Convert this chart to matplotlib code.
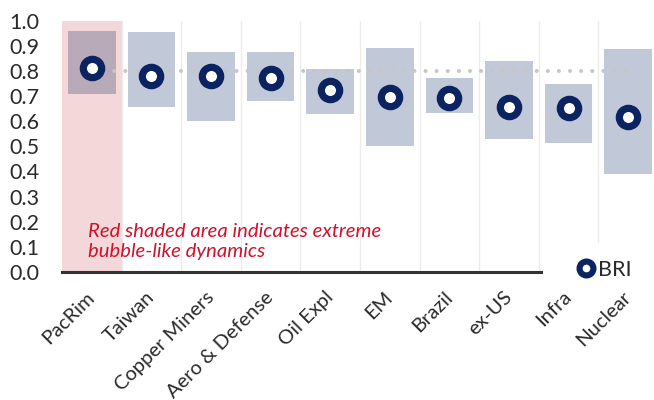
import matplotlib
matplotlib.use("Agg")
import matplotlib.pyplot as plt
from matplotlib.lines import Line2D

plt.rcParams['font.family'] = ['Lato', 'DejaVu Sans']

categories = ["PacRim", "Taiwan", "Copper Miners", "Aero & Defense", "Oil Expl",
              "EM", "Brazil", "ex-US", "Infra", "Nuclear"]
range_high = [0.958, 0.954, 0.874, 0.874, 0.808, 0.893, 0.772, 0.841, 0.748, 0.889]
range_low = [0.707, 0.658, 0.602, 0.682, 0.627, 0.501, 0.632, 0.530, 0.512, 0.391]
bri = [0.810, 0.780, 0.780, 0.771, 0.724, 0.698, 0.692, 0.655, 0.653, 0.617]
threshold = 0.8
yticks = [0.0, 0.1, 0.2, 0.3, 0.4, 0.5, 0.6, 0.7, 0.8, 0.9, 1.0]
ytick_labels = ["0.0", "0.1", "0.2", "0.3", "0.4", "0.5", "0.6", "0.7", "0.8", "0.9", "1.0"]

NAVY = "#0b2461"
RED = "#d0112b"
TXT = "#2a2a2a"

fig = plt.figure(figsize=(6.54, 4.0), dpi=100)
ax = fig.add_axes([62/654, 1-272/400, 1-62/654, (272-20.7)/400])

x = list(range(len(categories)))

ax.axvspan(-0.5, 0.5, color="#f4d7d8", zorder=0, lw=0)

for i in range(len(categories) - 1):
    ymin = 0.12 if i == len(categories) - 2 else 0
    ax.axvline(i + 0.5, ymin=ymin, ymax=1, color="#ececec", lw=1, zorder=0.5)

heights = [h - l for h, l in zip(range_high, range_low)]
ax.bar(x, heights, bottom=range_low, width=0.8, color=NAVY, alpha=0.25, lw=0, zorder=1)

ax.plot([x[0], x[-1]], [threshold, threshold], color="#c6c6c6", lw=2.9,
        linestyle=(0, (0.01, 2.75)), dash_capstyle="round", zorder=2)

ax.plot(x, bri, linestyle="none", marker="o", markersize=13.2, markeredgewidth=5.2,
        markerfacecolor="white", markeredgecolor=NAVY, zorder=3)

ax.text(-0.064, 0.121, "Red shaded area indicates extreme\nbubble-like dynamics",
        color=RED, style="italic", fontsize=14.6, va="center", ha="left",
        linespacing=1.2, zorder=4)

ax.set_xlim(-0.5, 9.433)
ax.set_ylim(0, 1)
ax.set_yticks(yticks)
ax.set_yticklabels(ytick_labels)
ax.set_xticks(x)
ax.set_xticklabels(categories, rotation=45, ha="right", rotation_mode="anchor", va="center")
ax.tick_params(axis="y", length=0, pad=16, labelsize=15.5, labelcolor=TXT)
ax.tick_params(axis="x", length=0, pad=16, labelsize=14.5, labelcolor=TXT)

for s in ["top", "right", "left"]:
    ax.spines[s].set_visible(False)
ax.spines["bottom"].set_color("#333333")
ax.spines["bottom"].set_linewidth(2.2)
ax.spines["bottom"].set_bounds(-0.5, 7.54)
ax.spines["bottom"].set_zorder(5)

handle = Line2D([], [], linestyle="none", marker="o", markersize=10, markeredgewidth=4.4,
                markerfacecolor="white", markeredgecolor=NAVY)
ax.legend(handles=[handle], labels=["BRI"], loc="center left",
          bbox_to_anchor=(578/654, 1-270/400), bbox_transform=fig.transFigure,
          frameon=False, handlelength=0.7, handletextpad=0.25, borderpad=0,
          borderaxespad=0, fontsize=15.5, labelcolor=TXT)

fig.savefig("out.png", dpi=100)
